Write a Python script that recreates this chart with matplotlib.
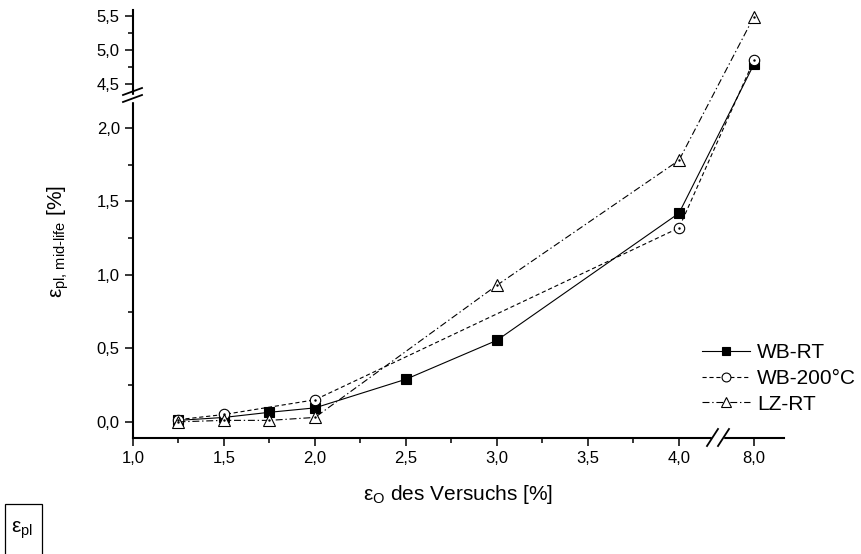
import numpy as np
import matplotlib
matplotlib.use("Agg")
import matplotlib.pyplot as plt
from matplotlib.patches import Rectangle

plt.rcParams['font.family'] = ['Liberation Sans', 'DejaVu Sans']
plt.rcParams['mathtext.fontset'] = 'custom'
plt.rcParams['mathtext.rm'] = 'Liberation Sans'
plt.rcParams['mathtext.it'] = 'Liberation Sans:italic'
plt.rcParams['mathtext.bf'] = 'Liberation Sans:bold'
plt.rcParams['lines.scale_dashes'] = False

# data
wb_rt_x = [1.25, 1.5, 1.75, 2.0, 2.5, 3.0, 4.0, 8.0]
wb_rt_y = [0.01, 0.03, 0.065, 0.095, 0.29, 0.555, 1.42, 4.79]

wb_200_x = [1.25, 1.5, 2.0, 4.0, 8.0]
wb_200_y = [0.015, 0.05, 0.15, 1.32, 4.85]

lz_rt_x = [1.25, 1.5, 1.75, 2.0, 3.0, 4.0, 8.0]
lz_rt_y = [0.0, 0.01, 0.01, 0.03, 0.93, 1.78, 5.49]

x_ticks = [1.0, 1.5, 2.0, 2.5, 3.0, 3.5, 4.0, 8.0]
x_labels = ['1,0', '1,5', '2,0', '2,5', '3,0', '3,5', '4,0', '8,0']
x_minor = [1.25, 1.75, 2.25, 2.75, 3.25, 3.75]
y_ticks = [0.0, 0.5, 1.0, 1.5, 2.0, 4.5, 5.0, 5.5]
y_labels = ['0,0', '0,5', '1,0', '1,5', '2,0', '4,5', '5,0', '5,5']
y_minor = [0.25, 0.75, 1.25, 1.75, 4.75, 5.25]

# broken axes as piecewise linear scales
xk_real = [-100, 4.21, 7.84, 100]
xk_pos = [-100, 4.21, 4.252, 4.412 + 92]
yk_real = [-100, 2.22, 4.34, 100]
yk_pos = [-100, 2.22, 2.30 + (4.34 - 4.5) * 0.4626, 2.30 + 95.5 * 0.4626]


def fx(v):
    return np.interp(v, xk_real, xk_pos)


def ifx(v):
    return np.interp(v, xk_pos, xk_real)


def fy(v):
    return np.interp(v, yk_real, yk_pos)


def ify(v):
    return np.interp(v, yk_pos, yk_real)


fig = plt.figure(figsize=(8.61, 5.54), dpi=100)
ax = fig.add_axes([133 / 861, 116 / 554, 651 / 861, 428 / 554])
ax.set_xscale('function', functions=(fx, ifx))
ax.set_yscale('function', functions=(fy, ify))

ax.plot(wb_rt_x, wb_rt_y, color='black', lw=0.8, ls='-', marker='s',
        ms=7, mfc='black', mec='black', mew=0.8, label='WB-RT')
ax.plot(wb_200_x, wb_200_y, color='black', lw=0.8, ls=(0, (3, 2)), marker='o',
        ms=7.5, mfc='white', mec='black', mew=0.8, label='WB-200°C')
ax.plot(lz_rt_x, lz_rt_y, color='black', lw=0.8, ls=(0, (5, 2, 1, 2)), marker='^',
        ms=8, mfc='white', mec='black', mew=0.8, label='LZ-RT')
# little centre dots of the open symbols
ax.plot(wb_200_x, wb_200_y, ls='none', marker='.', ms=1.5, color='black')
ax.plot(lz_rt_x, lz_rt_y, ls='none', marker='.', ms=1.5, color='black')

ax.set_xlim(1.0, 8.165)
ax.set_ylim(-0.11, 5.587)

ax.set_xticks(x_ticks, labels=x_labels)
ax.set_xticks(x_minor, minor=True)
ax.set_yticks(y_ticks, labels=y_labels)
ax.set_yticks(y_minor, minor=True)
ax.tick_params(which='major', direction='out', length=6, width=1.1, pad=3.5, labelsize=12)
ax.tick_params(which='minor', direction='out', length=3.5, width=1.1)

for s in ['top', 'right']:
    ax.spines[s].set_visible(False)
for s in ['left', 'bottom']:
    ax.spines[s].set_linewidth(1.5)

# break marks on the axes (white gap + two slashes)
tr = ax.transAxes
ax.add_patch(Rectangle((-0.02, (438 - 101) / 428), 0.04, 6 / 428, transform=tr,
                       color='white', clip_on=False, zorder=5))
ax.add_patch(Rectangle((712 / 651 - 133 / 651, -0.02), 11 / 651, 0.04, transform=tr,
                       color='white', clip_on=False, zorder=5))
for dy in [0, 7]:
    y0 = (438 - 95 - dy) / 428
    ax.plot([-10 / 651, 9 / 651], [y0, y0 + 7 / 428], transform=tr, color='black',
            lw=1.3, clip_on=False, zorder=6)
for dx in [0, 11]:
    x0 = (707 + dx - 133) / 651
    ax.plot([x0, x0 + 11 / 651], [-8 / 428, 9 / 428], transform=tr, color='black',
            lw=1.3, clip_on=False, zorder=6)

ax.set_xlabel(r'ε$_{\text{O}}$ des Versuchs [%]', fontsize=15)
ax.xaxis.set_label_coords(0.5, -0.105)
ax.set_ylabel(r'ε$_{\text{pl, mid-life}}$ [%]', fontsize=15)
ax.yaxis.set_label_coords(-0.095, 0.46)

ax.legend(loc='upper left', bbox_to_anchor=((702 - 133) / 651, (438 - 343) / 428),
          frameon=False, fontsize=15, borderpad=0, borderaxespad=0, markerscale=0.85,
          handlelength=2.3, handletextpad=0.35, labelspacing=0.33, numpoints=1)

# small box in lower left corner
fig.add_artist(Rectangle((5 / 861, -0.05), 37 / 861, 0.05 + 50 / 554,
                         transform=fig.transFigure, fill=False, lw=0.9, ec='black'))
fig.text(11 / 861, (554 - 530) / 554, r'ε$_{\text{pl}}$', fontsize=15, va='center')

fig.savefig('out.png', dpi=100)
